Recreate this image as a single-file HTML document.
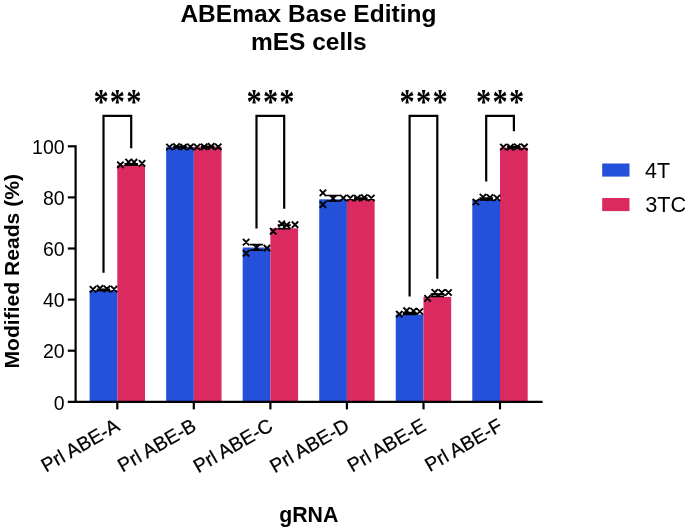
<!DOCTYPE html>
<html lang="en"><head><meta charset="utf-8"><title>ABEmax Base Editing mES cells</title>
<style>html,body{margin:0;padding:0;background:#fff}body{width:685px;height:529px;overflow:hidden}svg{display:block}text{font-family:"Liberation Sans",Arial,sans-serif;fill:#000}.b{font-weight:bold}.st{font-family:"Liberation Serif","DejaVu Serif",serif;font-weight:bold}</style></head><body>
<svg width="685" height="529" viewBox="0 0 685 529">
<rect width="685" height="529" fill="#fff"/>
<text class="b" x="308.4" y="21.6" font-size="24.5" text-anchor="middle">ABEmax Base Editing</text>
<text class="b" x="308.8" y="50" font-size="24.5" text-anchor="middle">mES cells</text>
<rect x="89.60" y="290.50" width="27.70" height="111.30" fill="#2450da"/>
<rect x="117.30" y="165.00" width="27.70" height="236.80" fill="#db2a60"/>
<rect x="166.14" y="146.80" width="27.70" height="255.00" fill="#2450da"/>
<rect x="193.84" y="146.80" width="27.70" height="255.00" fill="#db2a60"/>
<rect x="242.68" y="247.50" width="27.70" height="154.30" fill="#2450da"/>
<rect x="270.38" y="228.30" width="27.70" height="173.50" fill="#db2a60"/>
<rect x="319.22" y="199.30" width="27.70" height="202.50" fill="#2450da"/>
<rect x="346.92" y="199.00" width="27.70" height="202.80" fill="#db2a60"/>
<rect x="395.76" y="314.50" width="27.70" height="87.30" fill="#2450da"/>
<rect x="423.46" y="296.90" width="27.70" height="104.90" fill="#db2a60"/>
<rect x="472.30" y="199.80" width="27.70" height="202.00" fill="#2450da"/>
<rect x="500.00" y="147.60" width="27.70" height="254.20" fill="#db2a60"/>
<g stroke="#000" stroke-width="1.7" fill="none">
<path d="M249.9 244.7H263.1M249.9 250.2H263.1M256.5 244.7V250.2"/>
<path d="M277.6 225.2H290.8M277.6 228.6H290.8M284.2 225.2V228.6"/>
<path d="M326.1 195.5H340.1M326.1 201.0H340.1M333.1 195.5V201.0"/>
<path d="M124.4 163.8H138.0M124.4 165.2H138.0M131.2 163.8V165.2"/>
<path d="M402.8 312.6H416.4M402.8 314.4H416.4M409.6 312.6V314.4"/>
<path d="M430.5 294.2H444.1M430.5 296.4H444.1M437.3 294.2V296.4"/>
<path d="M479.4 198.2H493.0M479.4 199.8H493.0M486.2 198.2V199.8"/>
<path d="M96.7 289.3H110.2M96.7 290.5H110.2M103.5 289.3V290.5"/>
<path d="M354.0 198.2H367.6M354.0 199.2H367.6M360.8 198.2V199.2"/>
<path d="M173.2 146.4H186.8M173.2 147.4H186.8M180.0 146.4V147.4"/>
<path d="M200.9 146.4H214.5M200.9 147.4H214.5M207.7 146.4V147.4"/>
<path d="M507.1 146.8H520.6M507.1 147.8H520.6M513.9 146.8V147.8"/>
</g>
<g stroke="#000" stroke-width="1.9" stroke-linecap="butt" fill="none">
<path d="M89.8 286.1L96.2 292.5M89.8 292.5L96.2 286.1M96.8 285.1L103.2 291.5M96.8 291.5L103.2 285.1M103.8 285.6L110.2 292.0M103.8 292.0L110.2 285.6M110.8 285.9L117.2 292.3M110.8 292.3L117.2 285.9"/>
<path d="M117.2 161.6L123.6 168.0M117.2 168.0L123.6 161.6M125.4 158.8L131.8 165.2M125.4 165.2L131.8 158.8M130.9 159.0L137.2 165.4M130.9 165.4L137.2 159.0M138.9 160.2L145.2 166.6M138.9 166.6L145.2 160.2"/>
<path d="M166.3 143.8L172.7 150.2M166.3 150.2L172.7 143.8M173.3 143.4L179.7 149.8M173.3 149.8L179.7 143.4M180.3 143.8L186.7 150.2M180.3 150.2L186.7 143.8M187.3 143.6L193.7 150.0M187.3 150.0L193.7 143.6"/>
<path d="M194.0 143.8L200.4 150.2M194.0 150.2L200.4 143.8M201.0 143.6L207.4 150.0M201.0 150.0L207.4 143.6M208.0 143.2L214.4 149.6M208.0 149.6L214.4 143.2M215.0 143.6L221.4 150.0M215.0 150.0L221.4 143.6"/>
<path d="M242.9 238.9L249.3 245.3M242.9 245.3L249.3 238.9M242.9 250.1L249.3 256.5M242.9 256.5L249.3 250.1M253.3 244.4L259.7 250.8M253.3 250.8L259.7 244.4M263.8 245.0L270.2 251.4M263.8 251.4L270.2 245.0"/>
<path d="M270.0 228.1L276.4 234.5M270.0 234.5L276.4 228.1M278.5 220.7L284.9 227.1M278.5 227.1L284.9 220.7M283.5 221.8L289.9 228.2M283.5 228.2L289.9 221.8M291.8 221.5L298.2 227.9M291.8 227.9L298.2 221.5"/>
<path d="M319.7 189.7L326.1 196.1M319.7 196.1L326.1 189.7M319.7 201.4L326.1 207.8M319.7 207.8L326.1 201.4M329.9 195.3L336.3 201.7M329.9 201.7L336.3 195.3M340.1 194.8L346.5 201.2M340.1 201.2L346.5 194.8"/>
<path d="M347.1 194.8L353.5 201.2M347.1 201.2L353.5 194.8M354.1 195.0L360.5 201.4M354.1 201.4L360.5 195.0M361.1 194.4L367.5 200.8M361.1 200.8L367.5 194.4M368.1 194.8L374.5 201.2M368.1 201.2L374.5 194.8"/>
<path d="M396.1 311.0L402.5 317.4M396.1 317.4L402.5 311.0M403.4 307.5L409.8 313.9M403.4 313.9L409.8 307.5M410.4 307.8L416.8 314.2M410.4 314.2L416.8 307.8M416.6 308.3L423.0 314.7M416.6 314.7L423.0 308.3"/>
<path d="M424.4 295.2L430.8 301.6M424.4 301.6L430.8 295.2M431.6 289.1L438.0 295.5M431.6 295.5L438.0 289.1M438.6 289.3L445.0 295.7M438.6 295.7L445.0 289.3M445.3 289.3L451.7 295.7M445.3 295.7L451.7 289.3"/>
<path d="M472.7 198.8L479.1 205.2M472.7 205.2L479.1 198.8M479.8 193.8L486.2 200.2M479.8 200.2L486.2 193.8M486.8 194.3L493.2 200.7M486.8 200.7L493.2 194.3M493.8 194.8L500.2 201.2M493.8 201.2L500.2 194.8"/>
<path d="M500.2 143.8L506.6 150.2M500.2 150.2L506.6 143.8M507.2 144.0L513.6 150.4M507.2 150.4L513.6 144.0M514.1 143.6L520.6 150.0M514.1 150.0L520.6 143.6M521.1 143.8L527.6 150.2M521.1 150.2L527.6 143.8"/>
</g>
<g stroke="#000" stroke-width="2.2" fill="none">
<path d="M75.6 145.3V402.8"/>
<path d="M67.8 401.8H542.6"/>
<path d="M67.8 350.7H75.6"/>
<path d="M67.8 299.6H75.6"/>
<path d="M67.8 248.5H75.6"/>
<path d="M67.8 197.4H75.6"/>
<path d="M67.8 146.3H75.6"/>
<path d="M117.3 401.8V409.4"/>
<path d="M193.8 401.8V409.4"/>
<path d="M270.4 401.8V409.4"/>
<path d="M346.9 401.8V409.4"/>
<path d="M423.5 401.8V409.4"/>
<path d="M500.0 401.8V409.4"/>
<path d="M103.5 272.8V115.8H131.2V148.3"/>
<path d="M256.5 228.6V115.8H284.2V208.8"/>
<path d="M409.6 296.4V115.8H437.3V278.7"/>
<path d="M486.2 181.6V115.8H513.9V131.3"/>
</g>
<text class="st" font-size="30.4" text-anchor="middle" letter-spacing="1.2" transform="translate(118.0 113.7) scale(1 1.16)">***</text>
<text class="st" font-size="30.4" text-anchor="middle" letter-spacing="1.2" transform="translate(271.1 113.7) scale(1 1.16)">***</text>
<text class="st" font-size="30.4" text-anchor="middle" letter-spacing="1.2" transform="translate(424.2 113.7) scale(1 1.16)">***</text>
<text class="st" font-size="30.4" text-anchor="middle" letter-spacing="1.2" transform="translate(500.7 113.7) scale(1 1.16)">***</text>
<text x="64.6" y="409.5" font-size="19.5" text-anchor="end">0</text>
<text x="64.6" y="358.4" font-size="19.5" text-anchor="end">20</text>
<text x="64.6" y="307.3" font-size="19.5" text-anchor="end">40</text>
<text x="64.6" y="256.2" font-size="19.5" text-anchor="end">60</text>
<text x="64.6" y="205.1" font-size="19.5" text-anchor="end">80</text>
<text x="64.6" y="154.0" font-size="19.5" text-anchor="end">100</text>
<text x="121.1" y="429.5" font-size="19.5" stroke="#000" stroke-width="0.25" text-anchor="end" transform="rotate(-30 121.1 429.5)">Prl ABE-A</text>
<text x="197.6" y="429.5" font-size="19.5" stroke="#000" stroke-width="0.25" text-anchor="end" transform="rotate(-30 197.6 429.5)">Prl ABE-B</text>
<text x="274.2" y="429.5" font-size="19.5" stroke="#000" stroke-width="0.25" text-anchor="end" transform="rotate(-30 274.2 429.5)">Prl ABE-C</text>
<text x="350.7" y="429.5" font-size="19.5" stroke="#000" stroke-width="0.25" text-anchor="end" transform="rotate(-30 350.7 429.5)">Prl ABE-D</text>
<text x="427.3" y="429.5" font-size="19.5" stroke="#000" stroke-width="0.25" text-anchor="end" transform="rotate(-30 427.3 429.5)">Prl ABE-E</text>
<text x="503.8" y="429.5" font-size="19.5" stroke="#000" stroke-width="0.25" text-anchor="end" transform="rotate(-30 503.8 429.5)">Prl ABE-F</text>
<text class="b" x="308.8" y="522.4" font-size="21.3" text-anchor="middle">gRNA</text>
<text class="b" x="19.4" y="271.3" font-size="21.1" text-anchor="middle" transform="rotate(-90 19.4 271.3)">Modified Reads (%)</text>
<rect x="602.2" y="163.5" width="27.3" height="13.1" fill="#2450da"/>
<rect x="602.2" y="198" width="27.3" height="13.1" fill="#db2a60"/>
<text x="645.1" y="177.6" font-size="21.4">4T</text>
<text x="645.3" y="211.9" font-size="21.7">3TC</text>
</svg></body></html>
